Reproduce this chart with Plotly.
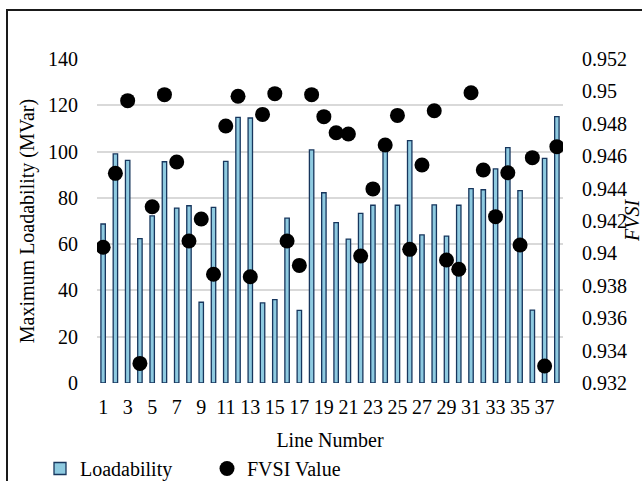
import plotly.graph_objects as go

line_numbers = list(range(1, 39))
loadability = [68.7, 99.0, 96.2, 62.4, 72.2, 95.6, 75.6, 76.6, 34.9, 75.9,
               95.8, 114.8, 114.5, 34.6, 36.0, 71.2, 31.4, 100.7, 82.2, 69.3,
               62.2, 73.3, 76.8, 102.8, 76.8, 104.7, 64.0, 77.0, 63.5, 76.8,
               84.0, 83.5, 92.5, 101.7, 83.1, 31.5, 97.1, 115.1]
fvsi = [0.94038, 0.94494, 0.94943, 0.93321, 0.94288, 0.94980, 0.94564, 0.94077, 0.94212, 0.93871,
        0.94786, 0.94970, 0.93856, 0.94858, 0.94986, 0.94077, 0.93926, 0.94980, 0.94844, 0.94745,
        0.94737, 0.93984, 0.94398, 0.94669, 0.94852, 0.94025, 0.94546, 0.94881, 0.93959, 0.93902,
        0.94992, 0.94515, 0.94227, 0.94498, 0.94052, 0.94591, 0.93305, 0.94659]

x_tick_vals = list(range(1, 39, 2))
y_left_ticks = [0, 20, 40, 60, 80, 100, 120, 140]
y_right_ticks = [0.932, 0.934, 0.936, 0.938, 0.94, 0.942, 0.944, 0.946, 0.948, 0.95, 0.952]
y_right_labels = ["0.932", "0.934", "0.936", "0.938", "0.94", "0.942", "0.944",
                  "0.946", "0.948", "0.95", "0.952"]

FONT = "Liberation Serif"
F = dict(family=FONT, size=20, color="black")
W, H = 642, 481
L, R, T, B = 97, 79, 59, 98
pw, ph = W - L - R, H - T - B


def px_to_paper_x(px):
    return (px - L) / pw


def px_to_paper_y(py):
    return (H - B - py) / ph


fig = go.Figure()
fig.add_trace(go.Bar(
    x=line_numbers, y=loadability, name="Loadability",
    marker=dict(color="#8ECAE0", line=dict(color="#17365D", width=1.3)),
    width=0.36,
))
fig.add_trace(go.Scatter(
    x=line_numbers, y=fvsi, name="FVSI Value", mode="markers",
    marker=dict(color="black", size=15),
    yaxis="y2",
))

fig.update_layout(
    width=W, height=H,
    margin=dict(l=L, r=R, t=T, b=B, autoexpand=False),
    paper_bgcolor="white", plot_bgcolor="white",
    font=F,
    showlegend=True,
    legend=dict(orientation="h", x=px_to_paper_x(40), y=px_to_paper_y(449),
                xanchor="left", yanchor="top", font=F,
                itemwidth=30, entrywidth=122, entrywidthmode="pixels",
                tracegroupgap=0, bgcolor="rgba(0,0,0,0)"),
    xaxis=dict(range=[0.5, 38.5], tickvals=x_tick_vals, ticktext=[str(v) for v in x_tick_vals],
               showgrid=False, zeroline=False, showline=False, ticks="",
               ticklabelstandoff=10, tickfont=F,
               title=dict(text="Line Number", standoff=15, font=F)),
    yaxis=dict(range=[0, 140], tickvals=y_left_ticks, showgrid=True, gridcolor="#D9D9D9",
               gridwidth=1.5, zeroline=False, showline=False, ticks="",
               ticklabelstandoff=18, tickfont=F,
               title=dict(text="Maximum Loadability (MVar)", standoff=8, font=F)),
    yaxis2=dict(range=[0.932, 0.952], overlaying="y", side="right",
                tickvals=y_right_ticks, ticktext=y_right_labels,
                showgrid=False, zeroline=False, showline=False, ticks="",
                ticklabelstandoff=18, tickfont=F),
    bargap=0.6,
)

fig.add_annotation(
    text="<i>FVSI</i>", textangle=-90, showarrow=False,
    xref="paper", yref="paper",
    x=px_to_paper_x(632), y=px_to_paper_y(221),
    xanchor="center", yanchor="middle",
    font=F,
)

fig.add_shape(
    type="rect", xref="paper", yref="paper",
    x0=px_to_paper_x(7), x1=px_to_paper_x(700),
    y0=px_to_paper_y(540), y1=px_to_paper_y(10),
    line=dict(color="#1a1a1a", width=2), fillcolor="rgba(0,0,0,0)", layer="above",
)

fig.write_html("out.html", config={"displayModeBar": False},
               post_script="document.body.style.margin='0px';document.body.style.overflow='hidden';")
